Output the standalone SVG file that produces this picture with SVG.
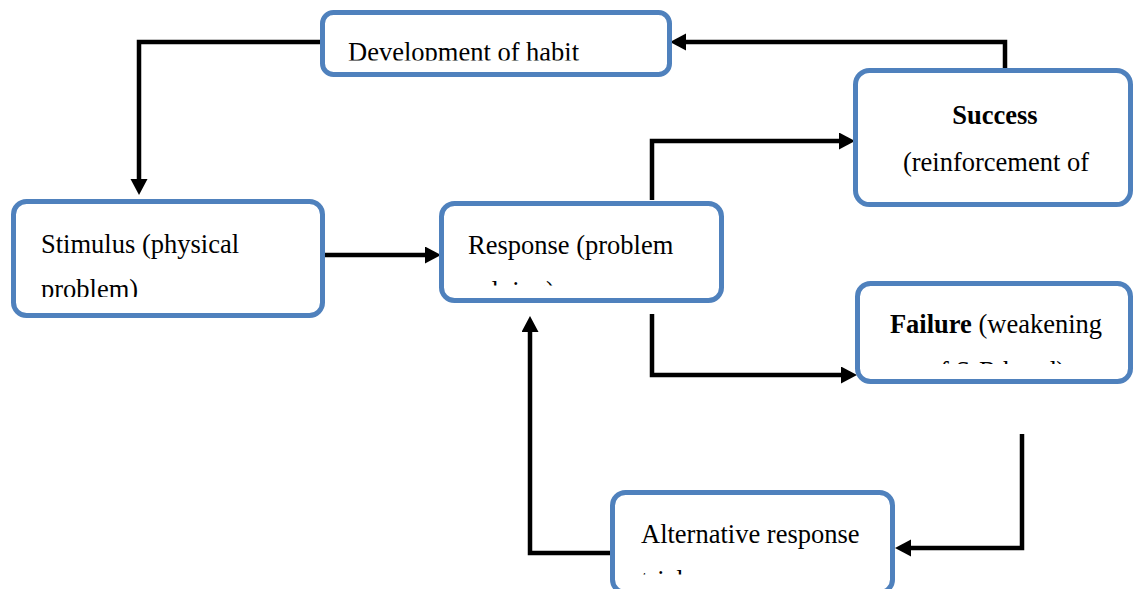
<svg xmlns="http://www.w3.org/2000/svg" width="1133" height="589" viewBox="0 0 1133 589">
<style>
.box{fill:#fff;stroke:#4F81BD;stroke-width:5}
.t{font-family:"Liberation Serif","Times New Roman",serif;font-size:26.5px;fill:#000}
.b{font-weight:bold}
.c{fill:none;stroke:#000;stroke-width:4.5;stroke-linejoin:miter}
</style>
<defs>
<marker id="ah" markerUnits="userSpaceOnUse" markerWidth="18" markerHeight="18" viewBox="0 0 18 18" refX="2" refY="8.5" orient="auto">
<path d="M0,0 L16,8.5 L0,17 Z" fill="#000"/>
</marker>
<clipPath id="cDev"><rect x="326" y="15" width="340" height="45.5"/></clipPath>
<clipPath id="cStim"><rect x="17" y="205" width="302" height="92"/></clipPath>
<clipPath id="cResp"><rect x="445" y="207" width="273" height="78.5"/></clipPath>
<clipPath id="cSucc"><rect x="860" y="74" width="270" height="110"/></clipPath>
<clipPath id="cFail"><rect x="861" y="287" width="270" height="77"/></clipPath>
<clipPath id="cAlt"><rect x="616" y="496" width="273" height="78.5"/></clipPath>
</defs>
<g id="connectors">
<path class="c" d="M322,42 H139 V181" marker-end="url(#ah)"/>
<path class="c" d="M325,255 H427" marker-end="url(#ah)"/>
<path class="c" d="M652,200 V141 H841" marker-end="url(#ah)"/>
<path class="c" d="M1005,70 V42 H684" marker-end="url(#ah)"/>
<path class="c" d="M652,314 V375 H843" marker-end="url(#ah)"/>
<path class="c" d="M1022,434 V548 H909" marker-end="url(#ah)"/>
<path class="c" d="M612,553 H530 V330" marker-end="url(#ah)"/>
</g>
<g id="development">
<rect class="box" x="322.5" y="12.5" width="347" height="62" rx="11"/>
<text class="t" x="348" y="61" clip-path="url(#cDev)">Development of habit</text>
</g>
<g id="stimulus">
<rect class="box" x="13.5" y="201.5" width="309" height="114" rx="13"/>
<g clip-path="url(#cStim)">
<text class="t" x="41" y="253">Stimulus (physical</text>
<text class="t" x="41" y="298">problem)</text>
</g>
</g>
<g id="response">
<rect class="box" x="441.5" y="203.5" width="280" height="97" rx="13"/>
<g clip-path="url(#cResp)">
<text class="t" x="468" y="254">Response (problem</text>
<text class="t" x="468" y="300">solving)</text>
</g>
</g>
<g id="success">
<rect class="box" x="855.5" y="70.5" width="275" height="134" rx="14"/>
<g clip-path="url(#cSucc)">
<text class="t b" x="995" y="124" text-anchor="middle">Success</text>
<text class="t" x="996" y="171" text-anchor="middle">(reinforcement of</text>
</g>
</g>
<g id="failure">
<rect class="box" x="857.5" y="283.5" width="273" height="98" rx="13"/>
<g clip-path="url(#cFail)">
<text class="t" x="996" y="333" text-anchor="middle"><tspan class="b">Failure</tspan> (weakening</text>
<text class="t" x="996" y="380" text-anchor="middle">of S-R bond)</text>
</g>
</g>
<g id="alternative">
<rect class="box" x="612.5" y="492.5" width="280" height="100" rx="13"/>
<g clip-path="url(#cAlt)">
<text class="t" x="641" y="543">Alternative response</text>
<text class="t" x="641" y="589">trial</text>
</g>
</g>
</svg>
